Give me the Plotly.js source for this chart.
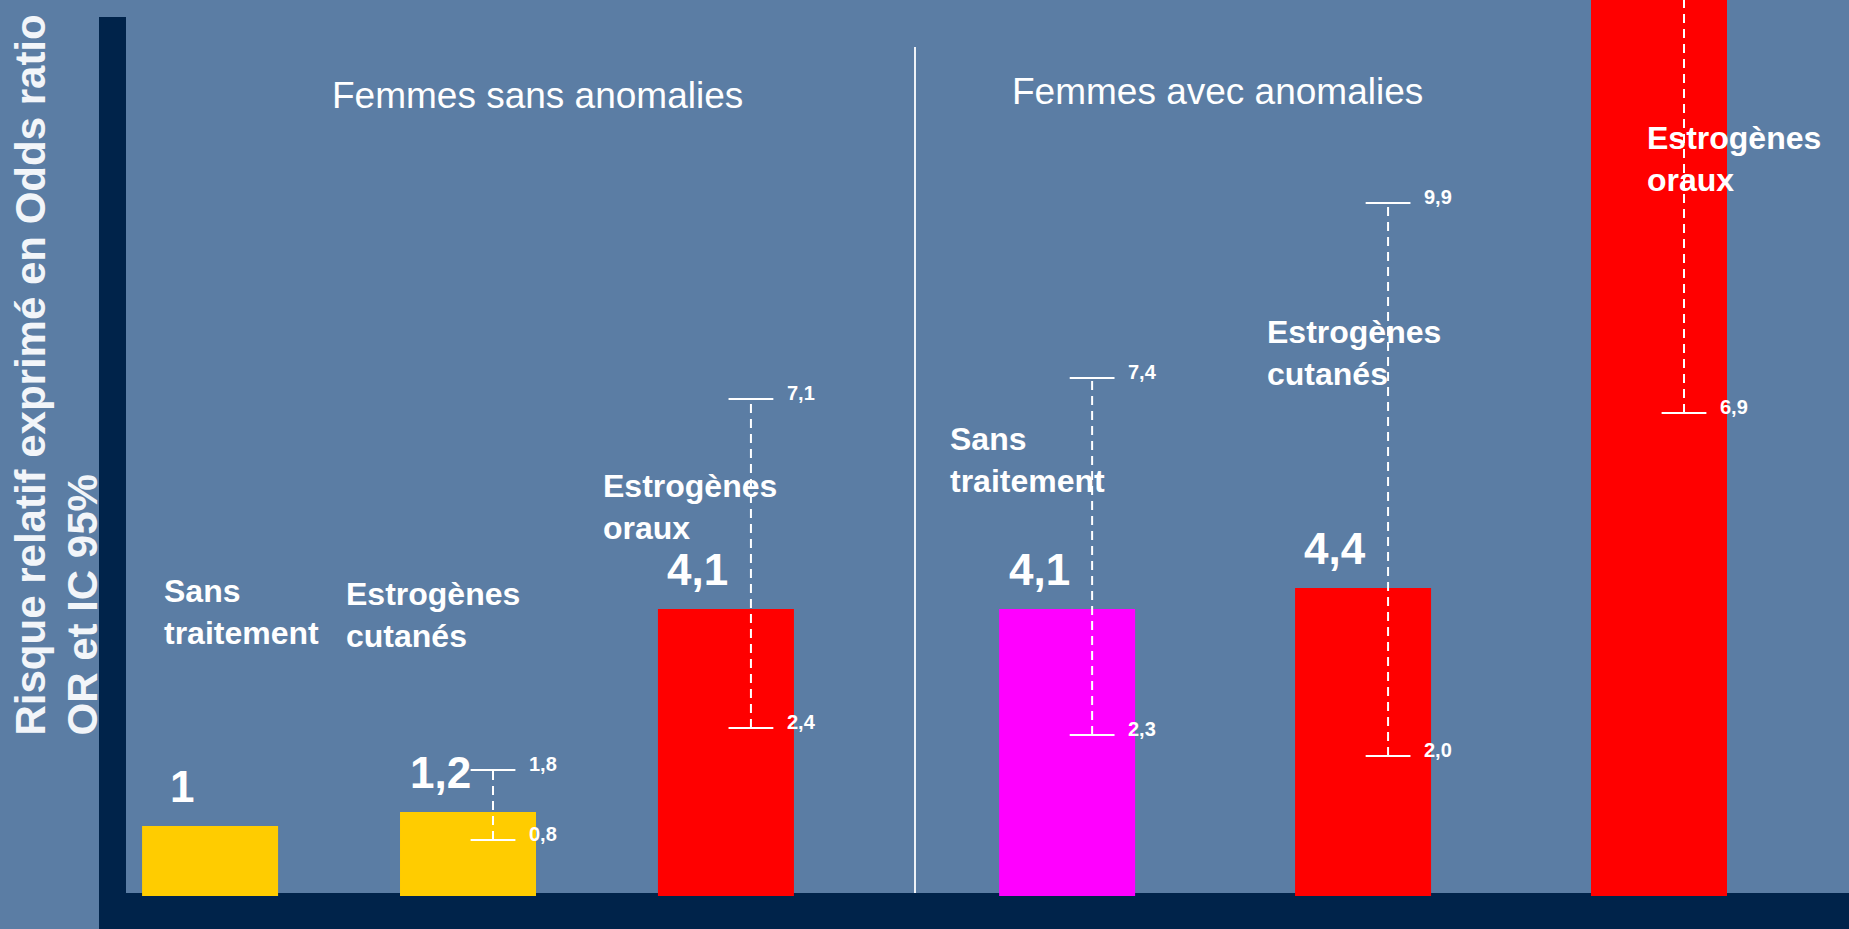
<!DOCTYPE html>
<html>
<head>
<meta charset="utf-8">
<script src="https://cdn.plot.ly/plotly-3.0.1.min.js"></script>
<style>
  html, body { margin: 0; padding: 0; background: #5b7da4; overflow: hidden; }
  #chart { width: 1849px; height: 929px; }
</style>
</head>
<body>
<div id="chart"></div>
<script>
// ---------- DATA ----------
const groupTitles = ['Femmes sans anomalies', 'Femmes avec anomalies'];
const categories = ['Sans traitement', 'Estrogènes cutanés', 'Estrogènes oraux'];

// Femmes sans anomalies
const orNo   = [1, 1.2, 4.1];
const lowNo  = [null, 0.8, 2.4];
const highNo = [null, 1.8, 7.1];

// Femmes avec anomalies
const orYes   = [4.1, 4.4, 25.5];
const lowYes  = [2.3, 2.0, 6.9];
const highYes = [7.4, 9.9, 95.0];

const yAxisTitle = ['Risque relatif exprimé en Odds ratio', 'OR et IC 95%'];

// ---------- STYLE / LAYOUT ----------
const W = 1849, H = 929;
const M = {l: 126, r: 0, t: 0, b: 33};
const PW = W - M.l - M.r, PH = H - M.t - M.b;
const px2x = px => (px - M.l) / PW;
const px2y = py => (H - M.b - py) / PH;

const colorsNo  = ['#FFCC00', '#FFCC00', '#FF0000'];
const colorsYes = ['#FF00FF', '#FF0000', '#FF0000'];
const navy = '#00234a';
const FONT = 'Liberation Sans, Arial, Helvetica, sans-serif';
const Y_MAX = 12.8;

const divX = 915;
const xr1 = [-0.326, 2.733];
const xr2 = [-0.514, 2.642];
const unit1 = (px2x(divX) * PW) / (xr1[1] - xr1[0]);
const unit2 = ((1 - px2x(divX)) * PW) / (xr2[1] - xr2[0]);
const errOffPx = 25;

// label placements (pixel left / cap-top)
const labelPosNo  = [[164, 580], [346, 583], [603, 475]];
const labelPosYes = [[950, 428], [1267, 321], [1647, 127]];

const fmt1 = v => v.toFixed(1).replace('.', ',');
const fmtV = v => (Number.isInteger(v) ? String(v) : fmt1(v));

function barTrace(vals, colors, xa, width) {
  return {
    type: 'bar', x: vals.map((_, i) => i), y: vals,
    xaxis: xa, yaxis: 'y', width: width,
    marker: {color: colors, line: {width: 0}},
    hoverinfo: 'skip', showlegend: false
  };
}
function errTrace(lows, highs, xa, off) {
  const x = [], y = [];
  lows.forEach((lo, i) => {
    if (lo == null) return;
    x.push(i + off, i + off, null);
    y.push(lo, highs[i], null);
  });
  return {
    type: 'scatter', mode: 'lines+markers', x: x, y: y,
    xaxis: xa, yaxis: 'y', connectgaps: false,
    line: {color: '#ffffff', width: 2, dash: '9px,6px'},
    marker: {symbol: 'line-ew', size: 32, color: '#ffffff', line: {color: '#ffffff', width: 2}},
    hoverinfo: 'skip', showlegend: false
  };
}

const off1 = errOffPx / unit1, off2 = errOffPx / unit2;
const data = [
  barTrace(orNo, colorsNo, 'x', 136 / unit1),
  barTrace(orYes, colorsYes, 'x2', 136 / unit2),
  errTrace(lowNo, highNo, 'x', off1),
  errTrace(lowYes, highYes, 'x2', off2)
];

const annotations = [];
// value labels
function valueLabels(vals, xa) {
  vals.forEach((v, i) => {
    if (v > Y_MAX) return;
    annotations.push({
      xref: xa, yref: 'y', x: i, y: v, text: fmtV(v), showarrow: false,
      xanchor: 'center', yanchor: 'middle', xshift: -28, yshift: 40,
      font: {family: FONT, size: 44, color: '#ffffff', weight: 'bold'}
    });
  });
}
valueLabels(orNo, 'x');
valueLabels(orYes, 'x2');

// CI labels
function ciLabels(lows, highs, xa, off) {
  lows.forEach((lo, i) => {
    if (lo == null) return;
    [lo, highs[i]].forEach(v => {
      if (v > Y_MAX) return;
      annotations.push({
        xref: xa, yref: 'y', x: i + off, y: v, text: fmt1(v), showarrow: false,
        xanchor: 'left', yanchor: 'middle', xshift: 34, yshift: 6,
        font: {family: FONT, size: 20, color: '#ffffff', weight: 'bold'}
      });
    });
  });
}
ciLabels(lowNo, highNo, 'x', off1);
ciLabels(lowYes, highYes, 'x2', off2);

// category labels
function catLabels(pos) {
  categories.forEach((c, i) => {
    annotations.push({
      xref: 'paper', yref: 'paper', x: px2x(pos[i][0] - 2), y: px2y(pos[i][1] - 9),
      text: c.replace(' ', '<br>'), showarrow: false, align: 'left',
      xanchor: 'left', yanchor: 'top',
      font: {family: FONT, size: 32, color: '#ffffff', weight: 'bold'}
    });
  });
}
catLabels(labelPosNo);
catLabels(labelPosYes);

// group titles
[[537, 96], [1217, 92]].forEach((p, i) => {
  annotations.push({
    xref: 'paper', yref: 'paper', x: px2x(p[0]), y: px2y(p[1]),
    text: groupTitles[i], showarrow: false, xanchor: 'center', yanchor: 'middle',
    font: {family: FONT, size: 37, color: '#ffffff'}
  });
});

// y axis title (two lines, rotated)
[[30, 738], [82, 738]].forEach((p, i) => {
  annotations.push({
    xref: 'paper', yref: 'paper', x: px2x(p[0]), y: px2y(p[1]),
    text: yAxisTitle[i], showarrow: false, textangle: -90,
    xanchor: 'center', yanchor: 'bottom',
    font: {family: FONT, size: 42, color: '#f2f5f9', weight: 'bold'}
  });
});

const shapes = [
  // navy frame
  {type: 'rect', xref: 'paper', yref: 'paper', layer: 'below',
   x0: px2x(99), x1: px2x(126), y0: px2y(929), y1: px2y(17),
   fillcolor: navy, line: {width: 0}},
  {type: 'rect', xref: 'paper', yref: 'paper', layer: 'below',
   x0: px2x(99), x1: 1, y0: px2y(929), y1: px2y(893),
   fillcolor: navy, line: {width: 0}},
  // divider
  {type: 'line', xref: 'paper', yref: 'paper', layer: 'below',
   x0: px2x(divX), x1: px2x(divX), y0: px2y(893), y1: px2y(47),
   line: {color: '#eef2f7', width: 2}}
];

const axisCommon = {showgrid: false, zeroline: false, showticklabels: false, ticks: '', showline: false, fixedrange: true};
const layout = {
  width: W, height: H,
  margin: M,
  paper_bgcolor: '#5b7da4',
  plot_bgcolor: 'rgba(0,0,0,0)',
  showlegend: false,
  xaxis: Object.assign({domain: [0, px2x(divX)], range: xr1, anchor: 'y'}, axisCommon),
  xaxis2: Object.assign({domain: [px2x(divX), 1], range: xr2, anchor: 'y'}, axisCommon),
  yaxis: Object.assign({domain: [0, 1], range: [0, Y_MAX], anchor: 'x'}, axisCommon),
  annotations: annotations,
  shapes: shapes,
  font: {family: FONT, color: '#ffffff'}
};

Plotly.newPlot('chart', data, layout, {displayModeBar: false, staticPlot: true});
</script>
</body>
</html>
